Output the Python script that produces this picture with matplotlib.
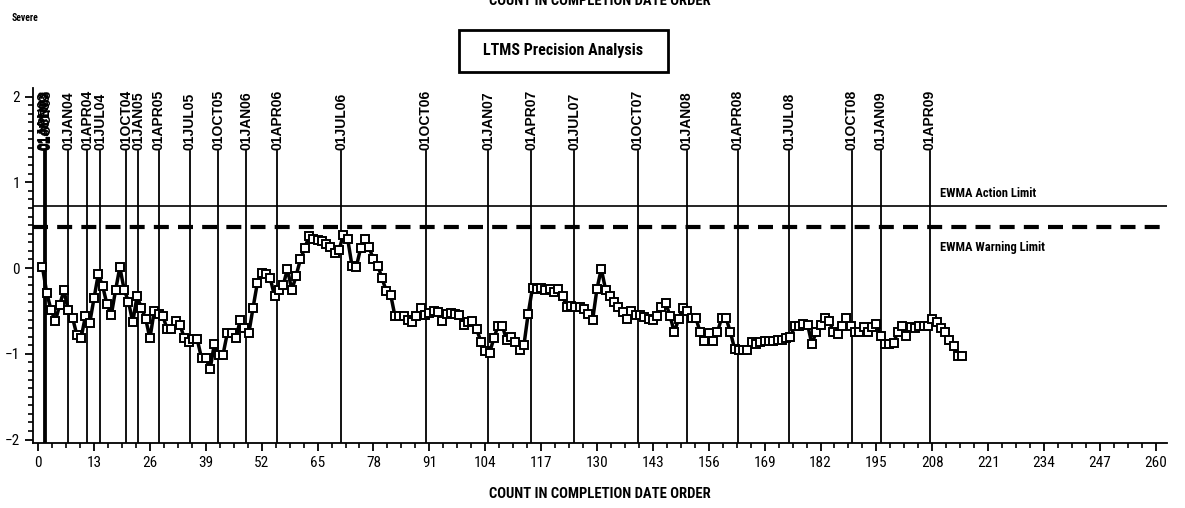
import numpy as np
import matplotlib
matplotlib.use("Agg")
import matplotlib.pyplot as plt
from matplotlib import font_manager
from matplotlib.patches import Rectangle

# EWMA values, one per test in completion order (count 1..215)
ewma = [
    0.01, -0.29, -0.49, -0.62, -0.43, -0.26, -0.49, -0.58, -0.78, -0.81,
    -0.56, -0.64, -0.35, -0.07, -0.21, -0.42, -0.55, -0.26, 0.01, -0.25,
    -0.39, -0.63, -0.33, -0.46, -0.59, -0.82, -0.50, -0.53, -0.56, -0.71,
    -0.71, -0.62, -0.66, -0.82, -0.86, -0.83, -0.83, -1.05, -1.05, -1.18,
    -0.88, -1.01, -1.01, -0.76, -0.76, -0.82, -0.61, -0.70, -0.76, -0.46,
    -0.17, -0.06, -0.07, -0.12, -0.33, -0.25, -0.20, -0.01, -0.26, -0.09,
    0.10, 0.23, 0.37, 0.34, 0.33, 0.31, 0.28, 0.25, 0.17, 0.21,
    0.39, 0.34, 0.03, 0.01, 0.23, 0.34, 0.24, 0.10, 0.03, -0.12,
    -0.27, -0.31, -0.56, -0.56, -0.56, -0.60, -0.63, -0.56, -0.46, -0.55,
    -0.52, -0.50, -0.51, -0.62, -0.53, -0.52, -0.54, -0.55, -0.66, -0.63,
    -0.62, -0.71, -0.86, -0.97, -0.99, -0.82, -0.67, -0.68, -0.84, -0.80,
    -0.86, -0.95, -0.90, -0.53, -0.23, -0.24, -0.23, -0.25, -0.24, -0.28,
    -0.24, -0.33, -0.45, -0.44, -0.45, -0.45, -0.48, -0.53, -0.60, -0.24,
    -0.01, -0.25, -0.33, -0.40, -0.45, -0.51, -0.59, -0.50, -0.55, -0.55,
    -0.57, -0.59, -0.61, -0.56, -0.45, -0.41, -0.56, -0.75, -0.59, -0.46,
    -0.50, -0.58, -0.58, -0.75, -0.85, -0.76, -0.85, -0.75, -0.58, -0.58,
    -0.74, -0.94, -0.96, -0.96, -0.95, -0.86, -0.89, -0.86, -0.85, -0.85,
    -0.85, -0.84, -0.84, -0.82, -0.80, -0.68, -0.67, -0.65, -0.66, -0.89,
    -0.74, -0.66, -0.58, -0.62, -0.74, -0.77, -0.67, -0.58, -0.68, -0.74,
    -0.74, -0.69, -0.74, -0.69, -0.65, -0.79, -0.89, -0.89, -0.87, -0.74,
    -0.68, -0.79, -0.69, -0.70, -0.67, -0.67, -0.67, -0.59, -0.63, -0.70,
    -0.74, -0.84, -0.91, -1.02, -1.03,
]
count = np.arange(1, len(ewma) + 1)

action_limit = 0.72
warning_limit = 0.48

# quarter start reference lines (count where each date begins)
ref_labels = ["01JAN03", "01APR03", "01JUL03", "01OCT03",
              "01JAN04", "01APR04", "01JUL04", "01OCT04", "01JAN05", "01APR05",
              "01JUL05", "01OCT05", "01JAN06", "01APR06", "01JUL06", "01OCT06",
              "01JAN07", "01APR07", "01JUL07", "01OCT07", "01JAN08", "01APR08",
              "01JUL08", "01OCT08", "01JAN09", "01APR09"]
ref_pos = [1.3, 1.5, 1.7, 1.9,
           7.0, 11.4, 14.4, 20.5, 23.3, 28.1,
           35.3, 41.9, 48.4, 55.6, 70.5, 90.2,
           104.7, 114.7, 124.7, 139.5, 150.9, 162.8,
           174.7, 189.3, 196.0, 207.4]

xticks = np.arange(0, 261, 13)
yticks = [-2, -1, 0, 1, 2]

# pick a narrow-ish font for the SAS style labels
installed = set(f.name for f in font_manager.fontManager.ttflist)
narrow_font = "DejaVu Sans"
for name in ["Liberation Sans Narrow", "DejaVu Sans Condensed",
             "Roboto Condensed", "Roboto", "Lato"]:
    if name in installed:
        narrow_font = name
        break
narrow = [narrow_font, "DejaVu Sans"]

# date labels in a plain helvetica-like bold face
date_font = font_manager.FontProperties(family=["Liberation Sans", "DejaVu Sans"],
                                        weight="bold", size=10)

fig = plt.figure(figsize=(11.85, 5.08), dpi=100)
ax = fig.add_axes([33 / 1185, 1 - 443 / 508, (1167 - 33) / 1185, (443 - 88) / 508])

ax.set_xlim(-1.2, 262.6)
ax.set_ylim(-2.04, 2.1)

# reference lines and their date labels
for pos, lab in zip(ref_pos, ref_labels):
    ax.plot([pos, pos], [-2.04, 1.36], color="black", lw=1.3, zorder=1)
    ax.text(pos, 1.38, lab, rotation=90, ha="center", va="bottom",
            fontproperties=date_font, clip_on=False)

# EWMA limits
ax.axhline(action_limit, color="black", lw=1.2, zorder=1)
ax.axhline(warning_limit, color="black", lw=3, dashes=(3.6, 2.2), zorder=1)
ax.text(209.8, 0.875, "EWMA Action Limit", fontsize=9, weight="bold",
        family=narrow, va="center")
ax.text(209.8, 0.245, "EWMA Warning Limit", fontsize=9, weight="bold",
        family=narrow, va="center")

# EWMA series
ax.plot(count, ewma, color="black", lw=2.5, marker="s", markersize=5.5,
        mfc="white", mec="black", mew=1.4, zorder=3)

# axes styling
for side in ["top", "right"]:
    ax.spines[side].set_visible(False)
ax.spines["left"].set_linewidth(1.3)
ax.spines["bottom"].set_linewidth(1.3)
ax.set_xticks(xticks)
ax.set_xticks(np.arange(0, 261, 3.25), minor=True)
ax.set_yticks(yticks)
ax.set_yticklabels(["\u22122", "\u22121", "0", "1", "2"])
ax.set_yticks(np.arange(-2, 2.01, 0.1), minor=True)
ax.tick_params(axis="both", which="major", length=6, width=1.3)
ax.tick_params(axis="both", which="minor", length=3.5, width=1.2)
for lab in ax.get_xticklabels() + ax.get_yticklabels():
    lab.set_family(narrow)
    lab.set_fontsize(11)

ax.set_xlabel("COUNT IN COMPLETION DATE ORDER", fontsize=10.5, weight="bold",
              family=narrow, labelpad=12)

# header texts
fig.text(600 / 1185, 1 - 5 / 508, "COUNT IN COMPLETION DATE ORDER", ha="center",
         va="baseline", fontsize=10.5, weight="bold", family=narrow)
fig.text(12 / 1185, 1 - 18 / 508, "Severe", ha="left", va="center",
         fontsize=7, weight="bold", family=narrow)
fig.patches.append(Rectangle((459 / 1185, 1 - 72 / 508), 209 / 1185, 42 / 508,
                             transform=fig.transFigure, fill=False,
                             edgecolor="black", lw=2))
fig.text(563 / 1185, 1 - 51 / 508, "LTMS Precision Analysis", ha="center",
         va="center", fontsize=11.5, weight="bold", family=narrow)

fig.savefig("out.png", dpi=100)
